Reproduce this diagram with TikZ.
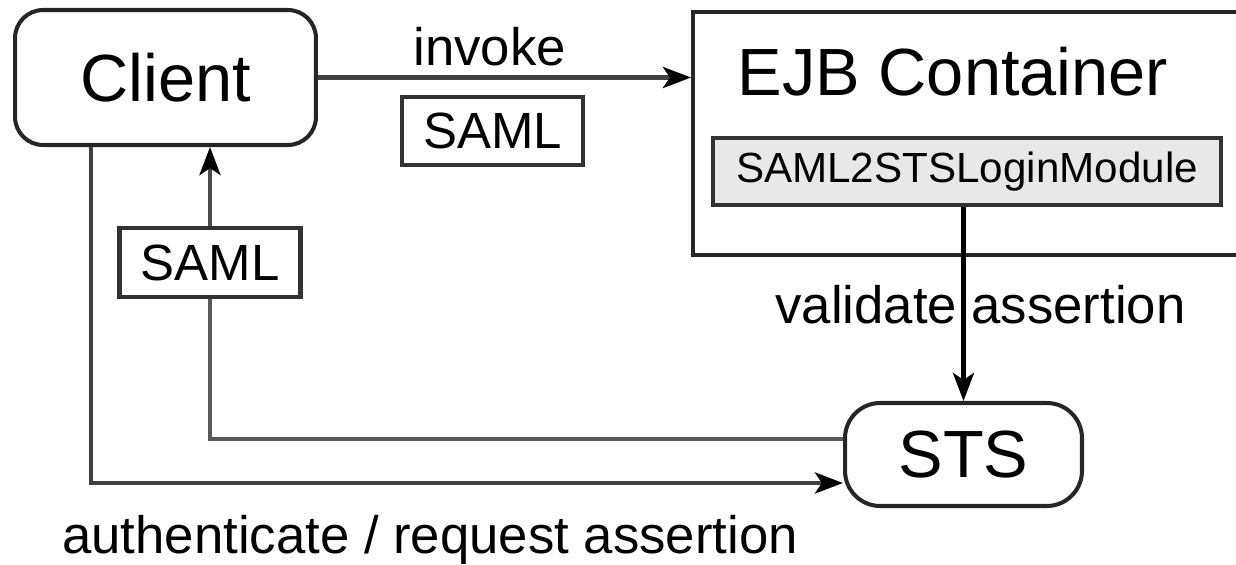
\documentclass[tikz,border=0pt]{standalone}
\usepackage{fontspec}
\setmainfont{Liberation Sans}
\usetikzlibrary{positioning,arrows.meta,calc}

\begin{document}
\begin{tikzpicture}[
      x=0.02cm, y=-0.02cm, % un pixel de la imagen
      party/.style={draw=black!85, rectangle, rounded corners=16pt, line width=2.3pt, inner sep=0pt, font=\fontsize{38}{40}\selectfont},
      token/.style={draw=black!80, rectangle, line width=2.3pt, inner sep=0pt, minimum width=3.62cm, minimum height=1.36cm, font=\fontsize{29}{30}\selectfont},
      tag/.style={inner sep=0pt, font=\fontsize{30}{32}\selectfont},
      flow/.style={line width=2.3pt, draw=black!75, -{Stealth[length=16pt,width=12pt,inset=4pt,color=black]}}
    ]
    \useasboundingbox (0,0) rectangle (1236,564);
    % Client y STS
    \node [party, minimum width=6.02cm, minimum height=2.7cm] (client) at (165.5,77.5) {Client};
    \node [party, rounded corners=20pt, minimum width=4.74cm, minimum height=2.06cm] (sts) at (963.5,454.5) {STS};
    % EJB container (cortado por la derecha)
    \node [draw=black!85, rectangle, line width=2.3pt, anchor=north west, minimum width=11.8cm, minimum height=4.86cm] (ejb) at (691,10) {};
    \node [tag, font=\fontsize{38}{40}\selectfont] (ejbtitle) at (953,72) {EJB Container};
    \node [token, fill=black!9, minimum width=10.16cm, minimum height=1.34cm, font=\fontsize{24}{26}\selectfont] (module) at (967,171.5) {SAML2STSLoginModule};
    % Tokens SAML
    \node [token] (samlreq) at (492.5,131) {SAML};
    \node [token, minimum height=1.38cm] (samlret) at (210,262.5) {SAML};
    % invoke
    \draw [flow] (client.east) -- (client.east -| ejb.west);
    \node [tag, anchor=base west] (invokelbl) at (413,66) {invoke};
    % validate assertion
    \draw [flow, draw=black] (module.south -| sts.north) -- (sts.north);
    \node [tag, anchor=base west] (validatelbl) at (775,323) {validate assertion};
    % SAML de vuelta al cliente
    \draw [line width=2.3pt, draw=black!65] ($(sts.west)+(0,-15.5)$) -| (samlret.south);
    \draw [flow, draw=black!70] (samlret.north) -- (samlret.north |- client.south);
    % authenticate / request assertion
    \draw [flow] ($(client.south west)+(78,0)$) |- ($(sts.west)+(0,28.5)$);
    \node [tag, anchor=base west] (authlbl) at (62,553) {authenticate / request assertion};
\end{tikzpicture}
\end{document}
